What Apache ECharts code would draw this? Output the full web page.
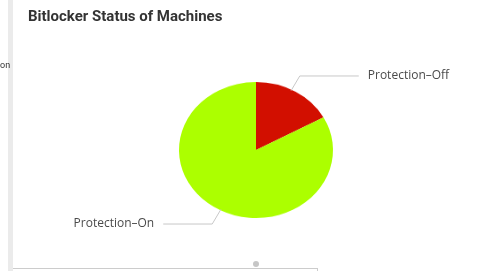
<!DOCTYPE html>
<html><head><meta charset="utf-8">
<script src="https://cdn.jsdelivr.net/npm/echarts@6/dist/echarts.min.js"></script>
<style>
html,body{margin:0;padding:0;background:#fff;overflow:hidden;}
#wrap{position:relative;width:480px;height:271px;}
#pieA{position:absolute;left:0;top:0;width:480px;height:271px;transform:scaleY(0.883);transform-origin:0 150px;}
#chartB{position:absolute;left:0;top:0;width:480px;height:271px;}
</style></head>
<body><div id="wrap"><div id="pieA"></div><div id="chartB"></div></div>
<script>
const titleText = 'Bitlocker Status of Machines';
const categories = ['Protection–Off', 'Protection–On'];
const values = [17, 83];
const colors = ['#d20f00', '#acff00'];

const dataA = categories.map((c, i) => ({name: c, value: values[i], itemStyle: {color: colors[i]}}));
const chartA = echarts.init(document.getElementById('pieA'), null, {renderer: 'canvas'});
chartA.setOption({
  animation: false,
  series: [{
    type: 'pie', center: [256, 150], radius: 77, startAngle: 90, clockwise: true,
    label: {show: false}, labelLine: {show: false},
    emphasis: {disabled: true},
    data: dataA
  }]
});

const len1 = [17, 17];
const len2 = [59, 49];
const dataB = categories.map((c, i) => ({name: c, value: values[i], labelLine: {length: len1[i], length2: len2[i]}}));
const chartB = echarts.init(document.getElementById('chartB'), null, {renderer: 'canvas'});
chartB.setOption({
  animation: false,
  title: {text: titleText, left: 28, top: 10, padding: 0,
    textStyle: {fontFamily: 'Roboto', fontWeight: 'bold', fontSize: 15, color: '#333'}},
  graphic: [
    {type: 'rect', shape: {x: 8, y: 0, width: 5, height: 271}, style: {fill: '#ebebeb'}},
    {type: 'text', x: 0, y: 61, style: {text: 'on', font: '9px Roboto', fill: '#333'}},
    {type: 'line', shape: {x1: 13, y1: 268.5, x2: 317, y2: 268.5}, style: {stroke: '#cccccc', lineWidth: 1}},
    {type: 'line', shape: {x1: 317.5, y1: 268, x2: 317.5, y2: 271}, style: {stroke: '#cccccc', lineWidth: 1}},
    {type: 'circle', shape: {cx: 256, cy: 264, r: 3}, style: {fill: '#c6c6c6'}}
  ],
  series: [{
    type: 'pie', center: [256, 150], radius: 69, startAngle: 90, clockwise: true,
    itemStyle: {color: 'rgba(0,0,0,0)'},
    emphasis: {disabled: true},
    label: {show: true, fontFamily: 'Open Sans', fontSize: 12, color: '#4a4a4a', distanceToLabelLine: 9},
    labelLine: {show: true, lineStyle: {color: '#c8c8c8', width: 1}},
    data: dataB
  }]
});
</script></body></html>
